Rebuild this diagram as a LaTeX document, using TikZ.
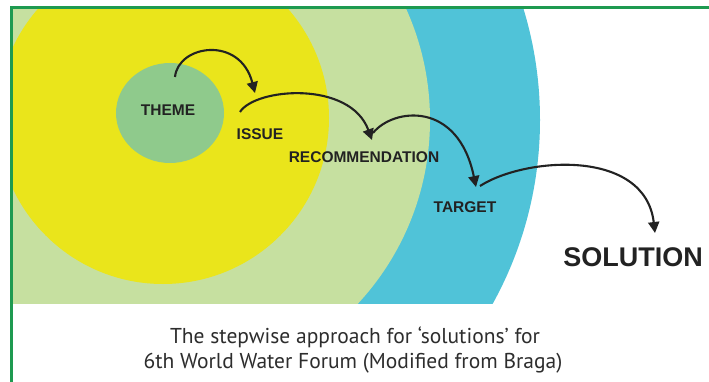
\documentclass[tikz,border=0pt]{standalone}
\usepackage{fontspec}
\setmainfont{Liberation Sans}
\newfontfamily\capfont{PT Sans}
\usetikzlibrary{arrows.meta,shapes.geometric}

\definecolor{framegreen}{HTML}{1E9A50}
\definecolor{yellowzone}{HTML}{EAE51B}
\definecolor{palegreen}{HTML}{C6E0A0}
\definecolor{bluezone}{HTML}{50C3D8}
\definecolor{themegreen}{HTML}{8FCA8C}
\definecolor{inkgray}{HTML}{222222}

\begin{document}
\begin{tikzpicture}[x=1pt,y=-1pt,
    lbl/.style={font=\bfseries\fontsize{15.5}{15.5}\selectfont,text=inkgray,inner sep=0pt},
    captxt/.style={font=\capfont\fontsize{21.5}{21.5}\selectfont,text=inkgray!95,inner sep=0pt,anchor=base},
    flow/.style={line width=2.1pt,inkgray,-{Triangle[width=11pt,length=11pt]}}]
    \useasboundingbox (0,0) rectangle (709,382);
    \fill[white] (0,0) rectangle (709,382);

    \begin{scope}
        \clip (12.5,8.8) rectangle (709,303);
        \fill[bluezone] (160,120) circle (380);
        \fill[palegreen] (160,120) circle (270);
        \fill[yellowzone] (163,118) circle (166);
    \end{scope}
    \draw[framegreen,line width=3pt] (709,7.3) -- (11,7.3) -- (11,382);

    \node[ellipse,fill=themegreen,minimum width=108,minimum height=100,inner sep=0pt] (themezone) at (170,113) {};
    \node[lbl] (theme) at (168,110) {THEME};
    \node[lbl] (issue) at (260,134) {ISSUE};
    \node[lbl] (recommendation) at (364,157) {RECOMMENDATION};
    \node[lbl] (target) at (465,207) {TARGET};
    \node[lbl,font=\bfseries\fontsize{27}{27}\selectfont] (solution) at (633,257) {SOLUTION};

    \coordinate (s1) at (175,77);
    \coordinate (e1) at (255,93);
    \coordinate (s2) at (240,112);
    \coordinate (e2) at (372,140);
    \coordinate (s3) at (373,133);
    \coordinate (e3) at (476,187);
    \coordinate (s4) at (480,186);
    \coordinate (e4) at (655,233);
    \draw[flow] (s1) .. controls (178,45) and (240,35) .. (e1);
    \draw[flow] (s2) .. controls (255,88) and (350,80) .. (e2);
    \draw[flow] (s3) .. controls (393,108) and (458,100) .. (e3);
    \draw[flow] (s4) .. controls (525,157) and (645,148) .. (e4);

    \node[captxt] (caption1) at (355,343) {The stepwise approach for ‘solutions’ for};
    \node[captxt] (caption2) at (353,368) {6th World Water Forum (Modified from Braga)};
\end{tikzpicture}
\end{document}
